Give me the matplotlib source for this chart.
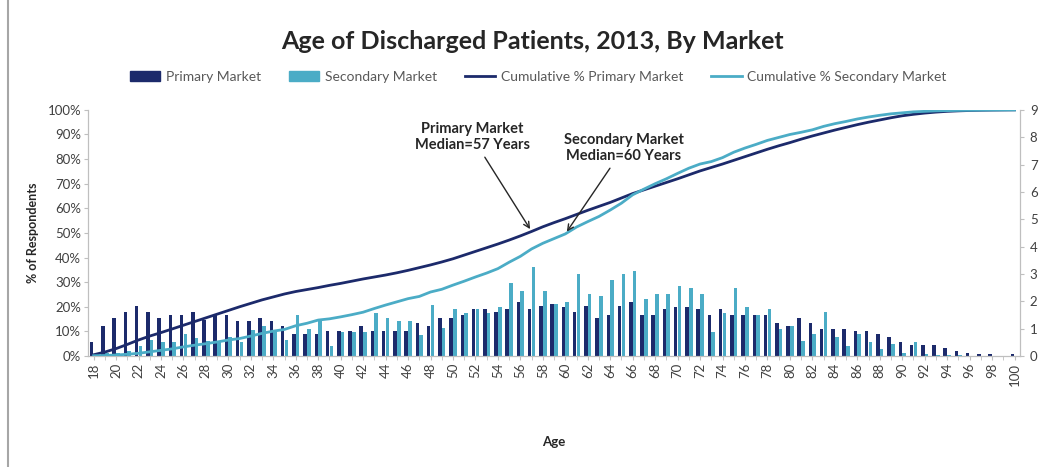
import numpy as np
import matplotlib
matplotlib.use("Agg")
import matplotlib.pyplot as plt
from matplotlib.lines import Line2D
from matplotlib.patches import Patch

plt.rcParams['font.family'] = ['Lato', 'DejaVu Sans']

ages = list(range(18, 101))

# share of patients at each age (right axis, %)
primary = [0.5, 1.1, 1.4, 1.6, 1.83, 1.6, 1.4, 1.5, 1.5, 1.6, 1.3, 1.5, 1.5, 1.28, 1.28, 1.4, 1.28,
           1.1, 0.8, 0.8, 0.8, 0.9, 0.9, 0.9, 1.1, 0.9, 0.9, 0.9, 0.9, 1.22, 1.1, 1.39, 1.4, 1.5,
           1.71, 1.71, 1.6, 1.71, 1.99, 1.71, 1.83, 1.89, 1.8, 1.6, 1.83, 1.4, 1.5, 1.83, 1.99, 1.5,
           1.5, 1.71, 1.8, 1.8, 1.71, 1.5, 1.71, 1.5, 1.5, 1.5, 1.5, 1.22, 1.1, 1.4, 1.2, 1.0, 1.0,
           1.0, 0.9, 0.9, 0.8, 0.7, 0.52, 0.42, 0.4, 0.4, 0.31, 0.2, 0.1, 0.07, 0.07, 0.0, 0.08]
secondary = [0.05, 0.1, 0.1, 0.2, 0.35, 0.6, 0.5, 0.5, 0.8, 0.65, 0.55, 0.55, 0.7, 0.5, 0.95, 1.1, 0.95,
             0.6, 1.49, 0.98, 1.34, 0.37, 0.88, 0.88, 0.88, 1.59, 1.38, 1.27, 1.27, 0.77, 1.87, 1.04,
             1.71, 1.59, 1.71, 1.59, 1.8, 2.66, 2.37, 3.27, 2.38, 1.91, 1.98, 2.99, 2.28, 2.2, 2.78,
             2.99, 3.11, 2.1, 2.28, 2.28, 2.56, 2.5, 2.28, 0.88, 1.59, 2.5, 1.8, 1.49, 1.71, 1.0, 1.1,
             0.55, 0.8, 1.6, 0.68, 0.37, 0.8, 0.5, 0.27, 0.43, 0.12, 0.5, 0.06, 0.05, 0.03, 0.02,
             0.0, 0.0, 0.0, 0.0, 0.0]

# cumulative share (left axis, %)
cum_primary = [0.5, 1.6, 3.0, 4.7, 6.5, 8.1, 9.5, 11.0, 12.5, 14.0, 15.5, 17.0, 18.5, 20.0, 21.4, 22.8,
               24.0, 25.2, 26.2, 27.0, 27.8, 28.7, 29.5, 30.4, 31.3, 32.1, 32.9, 33.8, 34.8, 35.9,
               37.0, 38.2, 39.5, 41.0, 42.5, 44.0, 45.5, 47.1, 48.8, 50.6, 52.5, 54.2, 55.8, 57.5,
               59.2, 60.8, 62.4, 64.2, 66.0, 67.5, 69.0, 70.5, 72.0, 73.6, 75.2, 76.6, 78.0, 79.5,
               81.0, 82.5, 84.0, 85.4, 86.7, 88.1, 89.4, 90.6, 91.8, 92.9, 94.0, 95.0, 95.9, 96.8,
               97.6, 98.2, 98.7, 99.1, 99.4, 99.6, 99.75, 99.85, 99.92, 99.96, 100.0]
cum_secondary = [0.1, 0.2, 0.4, 0.7, 1.1, 1.7, 2.3, 2.9, 3.7, 4.4, 5.0, 5.7, 6.5, 7.1, 8.1, 9.2, 10.1,
                 10.8, 12.3, 13.3, 14.6, 15.1, 15.9, 16.8, 17.8, 19.3, 20.7, 22.0, 23.3, 24.2, 26.0,
                 27.1, 28.8, 30.4, 32.1, 33.7, 35.5, 38.1, 40.5, 43.5, 45.8, 47.7, 49.6, 52.4, 54.6,
                 56.7, 59.3, 62.1, 65.5, 67.8, 70.0, 72.0, 74.2, 76.3, 78.0, 79.0, 80.6, 82.8, 84.5,
                 86.0, 87.6, 88.8, 90.0, 90.9, 91.9, 93.3, 94.4, 95.3, 96.3, 97.1, 97.8, 98.4, 98.8,
                 99.2, 99.4, 99.6, 99.7, 99.8, 99.85, 99.9, 99.95, 99.98, 100.0]

c_prim = '#1c2a6b'
c_sec = '#4bacc6'
gray = '#595959'

fig = plt.figure(figsize=(10.45, 4.67), dpi=100)
ax = fig.add_axes([0.0842, 0.2377, 0.892, 0.527])
ax2 = ax.twinx()

x = np.array(ages)
ax2.bar(x - 0.17, primary, width=0.32, color=c_prim, zorder=2)
ax2.bar(x + 0.17, secondary, width=0.32, color=c_sec, zorder=2)
ax2.set_ylim(0, 9)
ax2.set_yticks(range(0, 10))
ax2.set_yticklabels([str(i) for i in range(10)])

ax.plot(x, cum_primary, color=c_prim, lw=2, zorder=5)
ax.plot(x, cum_secondary, color=c_sec, lw=2, zorder=5)
ax.set_ylim(0, 100)
ax.set_xlim(17.5, 100.5)
ax.set_yticks(range(0, 101, 10))
ax.set_yticklabels([f'{v}%' for v in range(0, 101, 10)])
ax.set_xticks(ages[::2])
ax.set_xticklabels([str(a) for a in ages[::2]], rotation=90)
ax.set_xticks(ages, minor=True)
ax.set_zorder(ax2.get_zorder() + 1)
ax.patch.set_visible(False)

for a in (ax, ax2):
    for s in a.spines.values():
        s.set_color('#bfbfbf')
    a.spines['top'].set_visible(False)
    a.tick_params(colors=gray, labelsize=9.5, length=3, width=0.8)
    a.tick_params(which='minor', length=3, color='#bfbfbf')
ax.tick_params(axis='both', color='#bfbfbf', pad=2)
ax2.tick_params(axis='y', color='#bfbfbf', pad=4)
for t in ax.get_xticklabels() + ax.get_yticklabels() + ax2.get_yticklabels():
    t.set_color('#404040')

ax.set_ylabel('% of Respondents', fontsize=9, fontweight='bold', color='#262626', labelpad=6)
ax.set_xlabel('Age', fontsize=9.5, fontweight='bold', color='#262626', labelpad=36)

fig.suptitle('Age of Discharged Patients, 2013, By Market', x=0.51, y=0.935,
             fontsize=18, fontweight='bold', color='#262626')

handles = [Patch(color=c_prim), Patch(color=c_sec),
           Line2D([], [], color=c_prim, lw=2), Line2D([], [], color=c_sec, lw=2)]
labels = ['Primary Market', 'Secondary Market', 'Cumulative % Primary Market',
          'Cumulative % Secondary Market']
fig.legend(handles, labels, loc='center', bbox_to_anchor=(0.515, 0.835), ncol=4, frameon=False,
           fontsize=10, labelcolor=gray, columnspacing=2.0, handlelength=2.2, handletextpad=0.4)

ax.annotate('Primary Market\nMedian=57 Years', xy=(57, cum_primary[57 - 18]), xytext=(51.7, 89),
            ha='center', va='center', fontsize=10.5, fontweight='bold', color='#262626',
            arrowprops=dict(arrowstyle='->', color='#262626', lw=1), zorder=6)
ax.annotate('Secondary Market\nMedian=60 Years', xy=(60, cum_secondary[60 - 18]), xytext=(65.2, 84.5),
            ha='center', va='center', fontsize=10.5, fontweight='bold', color='#262626',
            arrowprops=dict(arrowstyle='->', color='#262626', lw=1), zorder=6)

# grey frame edge on the left of the picture
fig.add_artist(Line2D([8 / 1045, 8 / 1045], [0, 1], transform=fig.transFigure, color='#a6a6a6', lw=1.5))

fig.savefig('out.png', dpi=100)
